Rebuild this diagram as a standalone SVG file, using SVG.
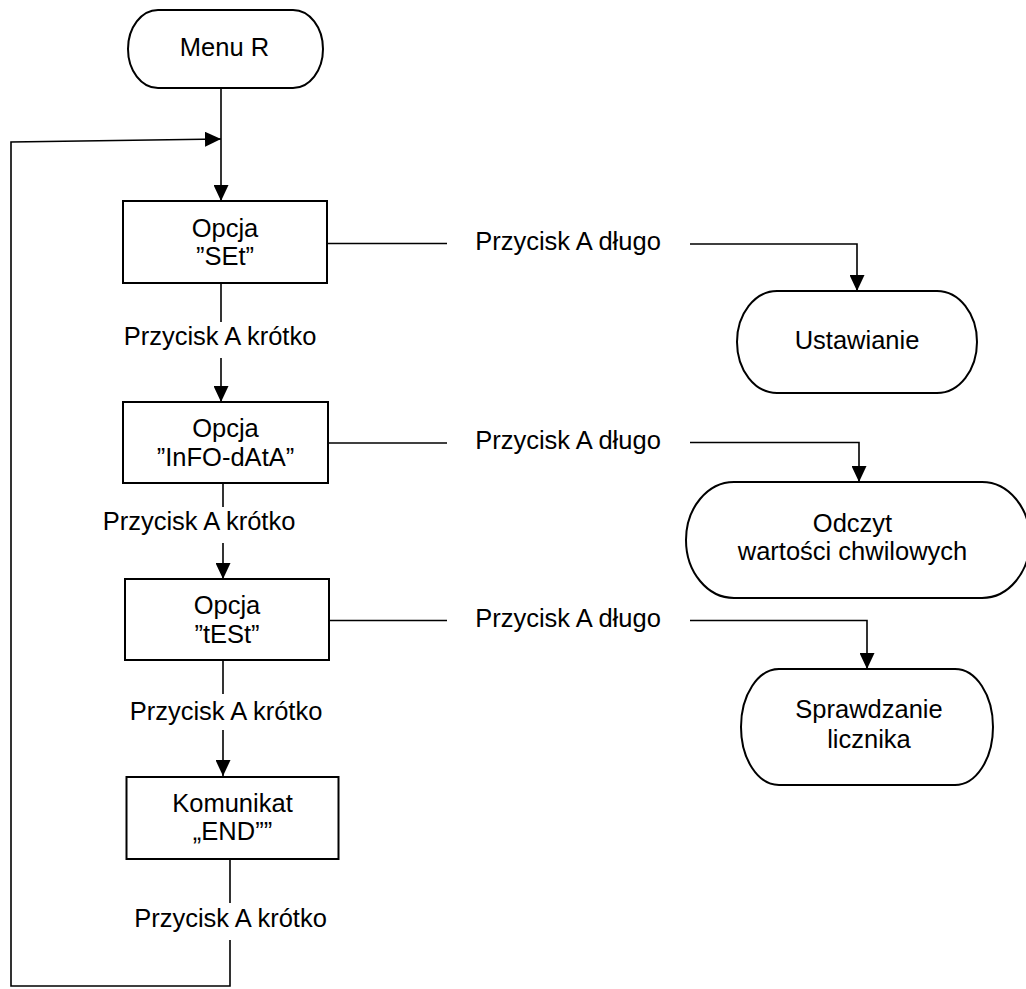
<svg xmlns="http://www.w3.org/2000/svg" width="1026" height="989" viewBox="0 0 1026 989">
<style>
text{font-family:"Liberation Sans",Arial,sans-serif;font-size:25.5px;fill:#000;text-anchor:middle}
.box{fill:#fff;stroke:#000;stroke-width:2}
.ln{fill:none;stroke:#000;stroke-width:1.6}
</style>
<defs>
<marker id="arr" viewBox="0 0 16 15" refX="16" refY="7.5" markerWidth="16" markerHeight="15" markerUnits="userSpaceOnUse" orient="auto">
<path d="M0,0 L16,7.5 L0,15 z" fill="#000"/>
</marker>
</defs>
<rect width="1026" height="989" fill="#fff"/>
<g id="connectors">
<path class="ln" d="M221,88 V201" marker-end="url(#arr)"/>
<path class="ln" d="M230,940 V986 H11 V142 L221,139" marker-end="url(#arr)"/>
<path class="ln" d="M221,283 V322"/>
<path class="ln" d="M221,358 V402" marker-end="url(#arr)"/>
<path class="ln" d="M223,483 V507"/>
<path class="ln" d="M223,543 V579" marker-end="url(#arr)"/>
<path class="ln" d="M223,660 V694"/>
<path class="ln" d="M223,730 V776" marker-end="url(#arr)"/>
<path class="ln" d="M230,859 V903"/>
<path class="ln" d="M327,243.5 H447"/>
<path class="ln" d="M690,244 H857 V291" marker-end="url(#arr)"/>
<path class="ln" d="M328,443 H447"/>
<path class="ln" d="M690,442.5 H859 V482" marker-end="url(#arr)"/>
<path class="ln" d="M329,620.5 H447"/>
<path class="ln" d="M690,620.5 H867 V669" marker-end="url(#arr)"/>
<text x="220" y="345">Przycisk A krótko</text>
<text x="199" y="530">Przycisk A krótko</text>
<text x="226" y="720">Przycisk A krótko</text>
<text x="230.5" y="927">Przycisk A krótko</text>
<text x="568" y="250">Przycisk A długo</text>
<text x="568" y="448.5">Przycisk A długo</text>
<text x="568" y="627">Przycisk A długo</text>
</g>
<g id="menu-r">
<rect class="box" x="128" y="10" width="195" height="78" rx="30" ry="39"/>
<text x="224.5" y="56">Menu R</text>
</g>
<g id="opcja-set">
<rect class="box" x="123" y="201" width="204" height="82"/>
<text x="225" y="236.7">Opcja</text>
<text x="225" y="265">”SEt”</text>
</g>
<g id="opcja-info">
<rect class="box" x="123" y="402" width="205" height="81"/>
<text x="225.5" y="436.7">Opcja</text>
<text x="225.5" y="466">”InFO-dAtA”</text>
</g>
<g id="opcja-test">
<rect class="box" x="125" y="579" width="204" height="81"/>
<text x="227" y="614">Opcja</text>
<text x="227" y="643">”tESt”</text>
</g>
<g id="komunikat-end">
<rect class="box" x="126.5" y="777" width="212" height="82"/>
<text x="232.5" y="811.7">Komunikat</text>
<text x="232.5" y="840">„END””</text>
</g>
<g id="ustawianie">
<rect class="box" x="737" y="291" width="240" height="102" rx="40" ry="51"/>
<text x="857" y="349.3">Ustawianie</text>
</g>
<g id="odczyt">
<rect class="box" x="686" y="482" width="344" height="116" rx="48" ry="58"/>
<text x="852.5" y="531.7">Odczyt</text>
<text x="852.5" y="560">wartości chwilowych</text>
</g>
<g id="sprawdzanie">
<rect class="box" x="741" y="669" width="252" height="116" rx="38" ry="58"/>
<text x="869" y="718.3">Sprawdzanie</text>
<text x="869" y="747.7">licznika</text>
</g>
</svg>
